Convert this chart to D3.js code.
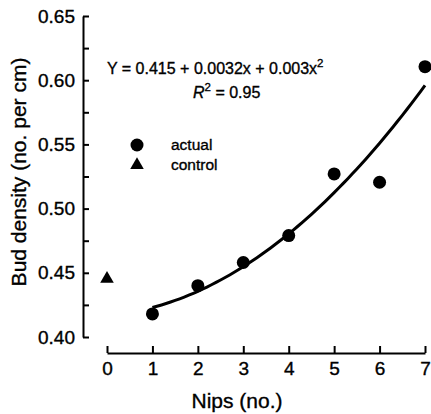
<!DOCTYPE html>
<html>
<head>
<meta charset="utf-8">
<script src="https://cdn.jsdelivr.net/npm/d3@7"></script>
<style>
  body { margin: 0; background: #fff; }
  svg { display: block; font-family: "Liberation Sans", Arial, sans-serif; }
  svg text { stroke: #000; stroke-width: 0.35px; fill: #000; }
</style>
</head>
<body>
<div id="chart"></div>
<script>
// values
const nips = [1, 2, 3, 4, 5, 6, 7];
const budDensity = [0.418, 0.440, 0.458, 0.479, 0.527, 0.5205, 0.6105];
const controlNips = [0];
const controlDensity = [0.446];
const xTicks = [0, 1, 2, 3, 4, 5, 6, 7];
const yTicks = [0.40, 0.45, 0.50, 0.55, 0.60, 0.65];
const yMinorTicks = [0.425, 0.475, 0.525, 0.575, 0.625];

const width = 431;
const height = 414;

const x = d3.scaleLinear().domain([0, 7]).range([107, 425]);
const y = d3.scaleLinear().domain([0.40, 0.65]).range([337, 16]);

const svg = d3.select("#chart").append("svg")
    .attr("width", width)
    .attr("height", height);

// quadratic least-squares fit through the actual points
function quadFit(xs, ys) {
    let s = [0, 0, 0, 0, 0], t = [0, 0, 0];
    xs.forEach((xi, i) => {
        for (let k = 0; k < 5; k++) s[k] += Math.pow(xi, k);
        for (let k = 0; k < 3; k++) t[k] += Math.pow(xi, k) * ys[i];
    });
    // solve 3x3 normal equations
    const m = [
        [s[0], s[1], s[2], t[0]],
        [s[1], s[2], s[3], t[1]],
        [s[2], s[3], s[4], t[2]]
    ];
    for (let i = 0; i < 3; i++) {
        for (let j = i + 1; j < 3; j++) {
            const f = m[j][i] / m[i][i];
            for (let k = i; k < 4; k++) m[j][k] -= f * m[i][k];
        }
    }
    const c = [0, 0, 0];
    for (let i = 2; i >= 0; i--) {
        let v = m[i][3];
        for (let k = i + 1; k < 3; k++) v -= m[i][k] * c[k];
        c[i] = v / m[i][i];
    }
    return xv => c[0] + c[1] * xv + c[2] * xv * xv;
}

const fit = quadFit(nips, budDensity);
const curveX = d3.range(nips[0], nips[nips.length - 1] + 0.001, 0.1);

// axes
svg.append("g")
    .attr("transform", "translate(83,0)")
    .call(d3.axisLeft(y).tickValues(yTicks).tickFormat(d3.format(".2f"))
        .tickSizeInner(-6).tickSizeOuter(0).tickPadding(8));

const yMinor = svg.append("g")
    .attr("transform", "translate(83,0)")
    .call(d3.axisLeft(y).tickValues(yMinorTicks).tickFormat("")
        .tickSizeInner(-6).tickSizeOuter(0));
yMinor.select(".domain").remove();

svg.append("g")
    .attr("transform", "translate(0,353)")
    .call(d3.axisBottom(x).tickValues(xTicks).tickFormat(d3.format("d"))
        .tickSizeInner(-7).tickSizeOuter(0).tickPadding(9));

svg.selectAll(".domain, .tick line")
    .attr("stroke", "#000")
    .attr("stroke-width", 2);

svg.selectAll(".tick text")
    .attr("font-size", 19)
    .attr("font-family", "Liberation Sans, Arial, sans-serif");

// axis titles
svg.append("text")
    .attr("x", 237)
    .attr("y", 408)
    .attr("text-anchor", "middle")
    .attr("font-size", 21)
    .text("Nips (no.)");

svg.append("text")
    .attr("transform", "translate(26,172) rotate(-90)")
    .attr("text-anchor", "middle")
    .attr("font-size", 21)
    .text("Bud density (no. per cm)");

// fitted curve
svg.append("path")
    .datum(curveX)
    .attr("fill", "none")
    .attr("stroke", "#000")
    .attr("stroke-width", 3)
    .attr("d", d3.line().x(d => x(d)).y(d => y(fit(d))));

// actual points
svg.append("g")
    .selectAll("circle")
    .data(nips)
    .join("circle")
    .attr("cx", d => x(d))
    .attr("cy", (d, i) => y(budDensity[i]))
    .attr("r", 6.5)
    .attr("fill", "#000");

// control point
const tri = d3.symbol().type(d3.symbolTriangle).size(80);
svg.append("g")
    .selectAll("path")
    .data(controlNips)
    .join("path")
    .attr("transform", (d, i) => `translate(${x(d)},${y(controlDensity[i]) + 1})`)
    .attr("d", tri)
    .attr("fill", "#000");

// equation
const eq = svg.append("text")
    .attr("x", 107)
    .attr("y", 74)
    .attr("font-size", 16);
eq.append("tspan").text("Y = 0.415 + 0.0032x + 0.003x");
eq.append("tspan").attr("dy", -7).attr("font-size", 11.5).text("2");

const r2 = svg.append("text")
    .attr("x", 193)
    .attr("y", 98)
    .attr("font-size", 16);
r2.append("tspan").attr("font-style", "italic").text("R");
r2.append("tspan").attr("dy", -7).attr("font-size", 11.5).text("2");
r2.append("tspan").attr("dy", 7).text(" = 0.95");

// legend
const legend = svg.append("g");
legend.append("circle")
    .attr("cx", 137).attr("cy", 145).attr("r", 6.5).attr("fill", "#000");
legend.append("text")
    .attr("x", 171).attr("y", 150).attr("font-size", 15.5).text("actual");
legend.append("path")
    .attr("transform", "translate(137,165)")
    .attr("d", tri)
    .attr("fill", "#000");
legend.append("text")
    .attr("x", 171).attr("y", 170).attr("font-size", 15.5).text("control");
</script>
</body>
</html>
